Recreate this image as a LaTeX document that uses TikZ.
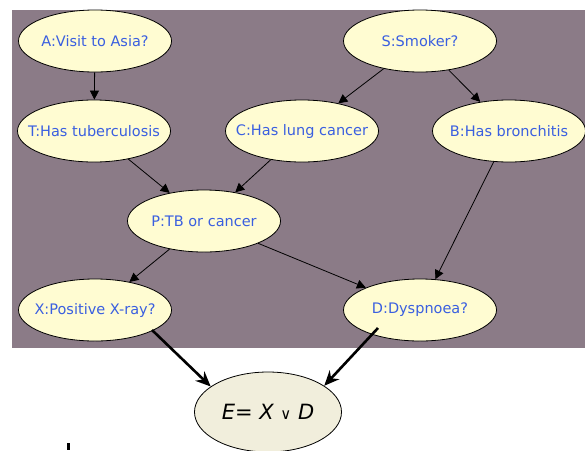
\documentclass[tikz,border=0pt]{standalone}
\usepackage{fontspec}
\usepackage{tikz}
\usetikzlibrary{shapes.geometric,arrows.meta}
\newfontfamily\netfont{DejaVu Sans}
\definecolor{netbg}{HTML}{8B7B87}
\definecolor{netfill}{HTML}{FFFCD2}
\definecolor{netblue}{HTML}{3A5FE0}
\definecolor{evfill}{HTML}{F1EEDC}
\tikzset{
  var/.style={ellipse, draw=black, line width=0.8pt, fill=netfill,
    minimum width=153pt, minimum height=62pt, inner xsep=-40pt, inner ysep=0pt,
    text=netblue, font=\netfont\fontsize{14.5}{17}\selectfont},
  link/.style={-{Triangle[length=9pt,width=9pt]}, line width=0.8pt},
  evlink/.style={-{Stealth[length=15pt,width=13pt]}, line width=2.6pt}
}

\begin{document}
\begin{tikzpicture}[x=1pt,y=-1pt]
\useasboundingbox (0,0) rectangle (585,450);
\fill [netbg] (12,10) rectangle (585,348);

\node [var] (asia) at (95,41) {A:Visit to Asia?};
\node [var] (smoke) at (420,41) {S:Smoker?};
\node [var] (tub) at (94,131) {T:Has tuberculosis};
\node [var] (lung) at (302,131) {C:Has lung cancer};
\node [var] (bron) at (509,131) {B:Has bronchitis};
\node [var] (either) at (204,221) {P:TB or cancer};
\node [var] (xray) at (95,310) {X:Positive X-ray?};
\node [var] (dysp) at (420,310) {D:Dyspnoea?};
\node [ellipse, draw, line width=0.8pt, fill=evfill, minimum width=147pt, minimum height=80pt,
  inner xsep=-25pt, inner ysep=0pt, font=\netfont\fontsize{21}{24}\selectfont] (ev) at (268,412)
  {\itshape E= X {\upshape\fontsize{15}{18}\selectfont ∨} D\hspace{18pt}};

\draw [link] (asia) -- (tub);
\draw [link] (smoke) -- (lung);
\draw [link] (smoke) -- (bron);
\draw [link] (tub) -- (either);
\draw [link] (lung) -- (either);
\draw [link] (either) -- (xray);
\draw [link] (either) -- (dysp);
\draw [link] (bron) -- (dysp);
\draw [evlink] ([shift={(57,20)}]xray.center) -- (ev.156);
\draw [evlink] ([shift={(-42,18)}]dysp.center) -- (ev.25);

\draw [line width=3pt] (68,443) -- (68,450);
\end{tikzpicture}
\end{document}
